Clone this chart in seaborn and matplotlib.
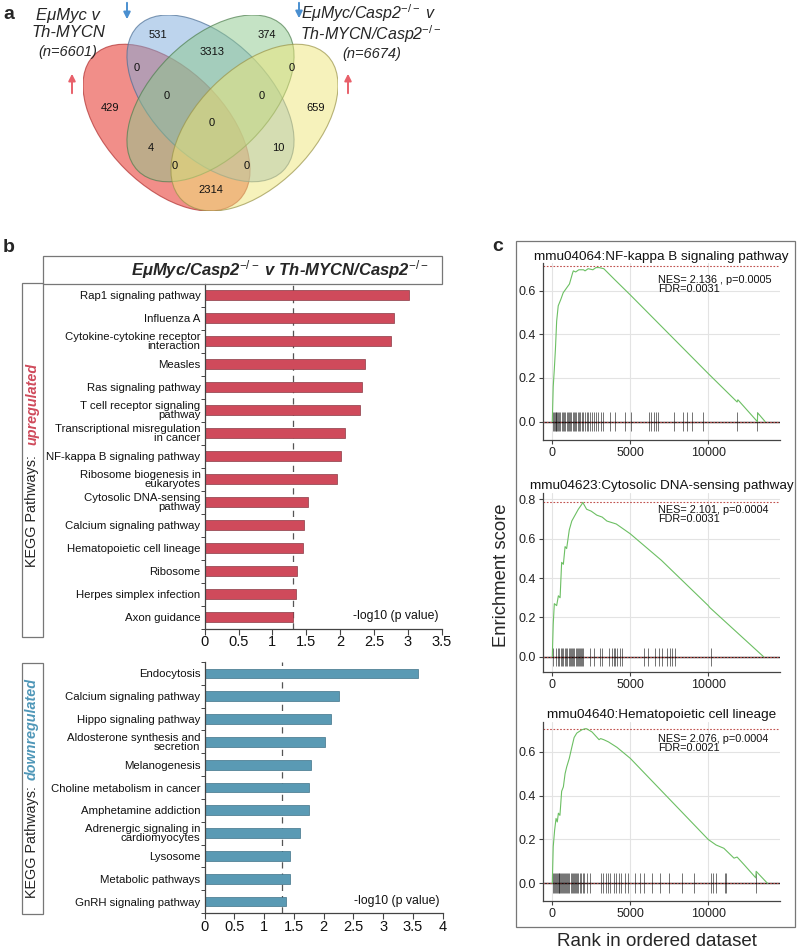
import matplotlib
matplotlib.use("Agg")
import matplotlib.pyplot as plt
from matplotlib.patches import Ellipse, Rectangle
import seaborn as sns

sns.set_theme(style="white")
plt.rcParams['font.family'] = ['Liberation Sans', 'DejaVu Sans']
plt.rcParams['mathtext.fontset'] = 'custom'
plt.rcParams['mathtext.rm'] = 'Liberation Sans'
plt.rcParams['mathtext.it'] = 'Liberation Sans:italic'
plt.rcParams['mathtext.bf'] = 'Liberation Sans:bold'

# ---------------- dados ----------------
# painel a: contagens do Venn (mesma ordem de venn_xy)
venn_counts = [531, 374, 3313, 0, 0, 429, 659, 0, 0, 0, 4, 10, 0, 0, 2314]

# painel b
up_paths = ["Rap1 signaling pathway", "Influenza A", "Cytokine-cytokine receptor\ninteraction",
            "Measles", "Ras signaling pathway", "T cell receptor signaling\npathway",
            "Transcriptional misregulation\nin cancer", "NF-kappa B signaling pathway",
            "Ribosome biogenesis in\neukaryotes", "Cytosolic DNA-sensing\npathway",
            "Calcium signaling pathway", "Hematopoietic cell lineage", "Ribosome",
            "Herpes simplex infection", "Axon guidance"]
up_vals = [3.02, 2.79, 2.75, 2.36, 2.32, 2.30, 2.07, 2.02, 1.95, 1.52, 1.46, 1.45, 1.37, 1.35, 1.31]

down_paths = ["Endocytosis", "Calcium signaling pathway", "Hippo signaling pathway",
              "Aldosterone synthesis and\nsecretion", "Melanogenesis", "Choline metabolism in cancer",
              "Amphetamine addiction", "Adrenergic signaling in\ncardiomyocytes", "Lysosome",
              "Metabolic pathways", "GnRH signaling pathway"]
down_vals = [3.59, 2.26, 2.12, 2.03, 1.79, 1.75, 1.75, 1.60, 1.44, 1.43, 1.37]

# painel c: curvas de enrichment score
gsea_titles = ["mmu04064:NF-kappa B signaling pathway",
               "mmu04623:Cytosolic DNA-sensing pathway",
               "mmu04640:Hematopoietic cell lineage"]
gsea_stats = ["NES= 2.136 , p=0.0005\nFDR=0.0031",
              "NES= 2.101, p=0.0004\nFDR=0.0031",
              "NES= 2.076, p=0.0004\nFDR=0.0021"]
gsea_max = [0.71, 0.785, 0.706]

nfkb_rank = [0, 60, 130, 200, 280, 380, 550, 700, 900, 1100, 1300, 1350, 1500, 1700, 2000, 2100,
             2300, 2600, 2800, 3000, 3300, 4000, 5000, 7500, 10000, 11850, 11900, 13150, 13170, 13650]
nfkb_es = [0, 0.16, 0.24, 0.33, 0.46, 0.53, 0.56, 0.59, 0.61, 0.63, 0.68, 0.69, 0.685, 0.695, 0.695,
           0.69, 0.70, 0.695, 0.705, 0.705, 0.70, 0.65, 0.58, 0.40, 0.22, 0.09, 0.10, 0.0, 0.04, 0.0]
nfkb_hits = [30, 90, 150, 210, 260, 330, 390, 450, 520, 600, 680, 750, 830, 920, 1000, 1080, 1150,
             1230, 1300, 1380, 1460, 1540, 1620, 1700, 1800, 1900, 2000, 2100, 2200, 2300, 2420,
             2550, 2680, 2800, 2950, 3100, 3250, 3700, 4000, 4680, 5040, 6180, 6330, 6500, 6650,
             6780, 7790, 8390, 8650, 8930, 9680, 11870, 13150]

cyto_rank = [0, 60, 130, 280, 390, 500, 600, 710, 820, 920, 1090, 1250, 1460, 1670, 1890, 1950,
             2200, 2500, 2850, 3200, 3500, 4100, 5000, 7000, 10000, 10100, 13550]
cyto_es = [0, 0.165, 0.27, 0.26, 0.31, 0.30, 0.48, 0.47, 0.56, 0.55, 0.645, 0.69, 0.72, 0.75, 0.775,
           0.785, 0.75, 0.74, 0.72, 0.71, 0.69, 0.675, 0.625, 0.49, 0.26, 0.25, 0.0]
cyto_hits = [64, 236, 386, 451, 537, 622, 708, 815, 880, 966, 1052, 1137, 1202, 1288, 1352, 1416,
             1502, 1567, 1631, 1717, 1781, 1846, 1910, 1953, 2425, 2683, 3069, 3176, 3605, 3820,
             3927, 4035, 4142, 4356, 4464, 5859, 6138, 6610, 6824, 7039, 7361, 7576, 7683, 7855,
             10150]

hema_rank = [0, 60, 150, 240, 320, 390, 490, 600, 710, 820, 920, 1090, 1250, 1400, 1570, 1890,
             2100, 2200, 2550, 3000, 3100, 3300, 3600, 4150, 5000, 7500, 10000, 10500, 11000,
             11650, 11850, 12300, 13050, 13070, 13800]
hema_es = [0, 0.167, 0.243, 0.296, 0.28, 0.32, 0.31, 0.42, 0.44, 0.50, 0.53, 0.57, 0.62, 0.665,
           0.685, 0.70, 0.705, 0.705, 0.69, 0.655, 0.66, 0.655, 0.645, 0.62, 0.57, 0.385, 0.20,
           0.175, 0.16, 0.115, 0.12, 0.085, 0.025, 0.055, 0.0]
hema_hits = [60, 110, 170, 230, 280, 340, 400, 460, 520, 580, 640, 700, 760, 830, 900, 960, 1030,
             1100, 1170, 1240, 1310, 1380, 1450, 1520, 1600, 1680, 1760, 1850, 1950, 2050, 2200,
             2420, 3133, 3283, 3412, 3541, 3713, 3927, 4077, 4292, 4421, 4635, 4850, 5279, 5644,
             5902, 6395, 6889, 7468, 8326, 9078, 10150, 10322, 10472, 11052, 11159, 13048]

gsea_rank = [nfkb_rank, cyto_rank, hema_rank]
gsea_es = [nfkb_es, cyto_es, hema_es]
gsea_hits = [nfkb_hits, cyto_hits, hema_hits]

# ---------------- layout / estilo ----------------
W, H = 798, 949
RED = '#cf4a5b'
BLUE = '#5a9ab4'
GREEN = '#6cbf63'

venn_xy = [(0.321, 0.787), (0.693, 0.787), (0.505, 0.729), (0.249, 0.674), (0.778, 0.674),
           (0.157, 0.538), (0.860, 0.538), (0.352, 0.579), (0.673, 0.579), (0.505, 0.486),
           (0.297, 0.401), (0.730, 0.401), (0.379, 0.340), (0.625, 0.340), (0.500, 0.258)]
venn_shapes = [((0.35, 0.47), 135, '#e41e14', '#b03030'),
               ((0.50, 0.57), 135, '#7daadc', '#4c6f95'),
               ((0.50, 0.57), 45, '#8cc88c', '#4f7f4f'),
               ((0.65, 0.47), 45, '#eee678', '#9a944a')]


def px_axes(left, top, right, bottom):
    return fig.add_axes([left / W, 1 - bottom / H, (right - left) / W, (bottom - top) / H])


fig = plt.figure(figsize=(W / 100, H / 100), dpi=100)

# ---------- a: Venn ----------
ax_v = px_axes(83, 15, 338, 211)
for (cx, cy), ang, fc, ec in venn_shapes:
    ax_v.add_patch(Ellipse((cx, cy), 0.70, 0.40, angle=ang, facecolor=fc, alpha=0.5, lw=0))
    ax_v.add_patch(Ellipse((cx, cy), 0.70, 0.40, angle=ang, fill=False, edgecolor=ec, alpha=0.7, lw=0.8))
for (x, y), n in zip(venn_xy, venn_counts):
    ax_v.text(x, y, str(n), ha='center', va='center', fontsize=8, color='#111')
ax_v.set_xlim(0.065, 0.935)
ax_v.set_ylim(0.185, 0.855)
ax_v.axis('off')

# ---------- b: barras ----------
def kegg_bars(ax, vals, paths, color, xmax, text_y):
    sns.barplot(x=vals, y=paths, orient='h', color=color, saturation=1, width=0.43,
                edgecolor='#8a3a45' if color == RED else '#3f7288', linewidth=0.5, ax=ax)
    ax.set_facecolor('none')
    ax.axvline(1.3, color='#555555', lw=0.9, ls=(0, (5, 4)), zorder=0)
    ticks = [i * 0.5 for i in range(int(xmax * 2) + 1)]
    ax.set_xlim(0, xmax)
    ax.set_xticks(ticks)
    ax.set_xticklabels([f'{t:g}' for t in ticks])
    n = len(paths)
    ax.set_yticks([i - 0.5 for i in range(n + 1)], minor=True)
    ax.tick_params(axis='y', which='major', length=0, labelsize=8.2, pad=3, colors='#111')
    ax.tick_params(axis='y', which='minor', left=True, length=3, width=0.7, color='#444')
    ax.tick_params(axis='x', bottom=True, length=4, width=0.8, color='#444', labelsize=10.5,
                   pad=1, colors='#111')
    for lbl in ax.get_yticklabels():
        lbl.set_linespacing(0.85)
    for s in ['top', 'right']:
        ax.spines[s].set_visible(False)
    for s in ['left', 'bottom']:
        ax.spines[s].set_color('#444')
        ax.spines[s].set_linewidth(0.9)
    ax.set_xlabel('')
    ax.set_ylabel('')
    ax.text(0.985, text_y, '-log10 (p value)', transform=ax.transAxes, ha='right', va='center',
            fontsize=8.8, color='#111')


ax_up = px_axes(204.7, 283.5, 441.7, 628.5)
kegg_bars(ax_up, up_vals, up_paths, RED, 3.5, 0.036)
ax_dn = px_axes(204.7, 662, 442.7, 913)
kegg_bars(ax_dn, down_vals, down_paths, BLUE, 4, 0.049)

# ---------- c: GSEA ----------
gsea_box = [(263, 440, -0.084, 0.726), (492.7, 672.3, -0.079, 0.834), (721.7, 900.7, -0.079, 0.737)]
for i in range(3):
    top, bottom, y0, y1 = gsea_box[i]
    ax = px_axes(542.7, top, 780, bottom)
    ax.set_facecolor('none')
    ax.grid(True, color='#e3e3e3', lw=0.8)
    ax.set_axisbelow(True)
    ax.axhline(0, color='#222222', lw=1.0, zorder=1)
    ax.axhline(0, color='#c0504d', lw=0.8, ls=(0, (1.5, 1.5)), zorder=2)
    ax.axhline(gsea_max[i], color='#c0504d', lw=0.8, ls=(0, (1.5, 1.5)), zorder=2)
    ax.vlines(gsea_hits[i], -0.045, 0.045, color='black', alpha=0.55, lw=0.7, zorder=3)
    sns.lineplot(x=gsea_rank[i], y=gsea_es[i], ax=ax, color=GREEN, lw=0.8,
                 estimator=None, sort=False, zorder=4)
    ax.set_xlim(-615, 14600)
    ax.set_ylim(y0, y1)
    yt = [0, 0.2, 0.4, 0.6, 0.8] if y1 > 0.8 else [0, 0.2, 0.4, 0.6]
    ax.set_yticks(yt)
    ax.set_yticklabels([f'{t:.1f}' for t in yt])
    ax.set_xticks([0, 5000, 10000])
    ax.set_xticklabels(['0', '5000', '10000'])
    ax.tick_params(length=3, width=0.8, color='#444', labelsize=9, pad=2, colors='#222',
                   bottom=True, left=True)
    for s in ['top', 'right']:
        ax.spines[s].set_visible(False)
    for s in ['left', 'bottom']:
        ax.spines[s].set_color('#444')
        ax.spines[s].set_linewidth(0.9)
    ax.set_title(gsea_titles[i], fontsize=9.7, pad=2.5, color='#111')
    ax.text(0.485, 0.93, gsea_stats[i], transform=ax.transAxes, ha='left', va='top',
            fontsize=7.8, linespacing=0.85, color='#111')

# ---------- sobreposicao (textos, caixas, setas) ----------
ov = fig.add_axes([0, 0, 1, 1])
ov.set_xlim(0, W)
ov.set_ylim(H, 0)
ov.axis('off')

for lbl, x, y in [('a', 3, 14), ('b', 3, 247), ('c', 492, 246)]:
    ov.text(x, y, lbl, fontsize=14, fontweight='bold', ha='left', va='center')

ov.text(68, 15, 'EμMyc v', fontsize=12, style='italic', ha='center', va='center')
ov.text(68, 32, 'Th-MYCN', fontsize=12, style='italic', ha='center', va='center')
ov.text(68, 52, '(n=6601)', fontsize=10.5, style='italic', ha='center', va='center')
ov.text(369, 13, r'EμMyc/Casp2$^{-/-}$ v', fontsize=11.5, style='italic', ha='center', va='center')
ov.text(371, 34, r'Th-MYCN/Casp2$^{-/-}$', fontsize=11.5, style='italic', ha='center', va='center')
ov.text(372, 54, '(n=6674)', fontsize=10.5, style='italic', ha='center', va='center')

arrow_red = dict(arrowstyle='-|>', color='#e8606a', lw=1.4, mutation_scale=10)
arrow_blue = dict(arrowstyle='-|>', color='#4a8fd0', lw=1.4, mutation_scale=10)
ov.annotate('', xy=(72, 71), xytext=(72, 96), arrowprops=arrow_red)
ov.annotate('', xy=(348, 71), xytext=(348, 96), arrowprops=arrow_red)
ov.annotate('', xy=(127, 22), xytext=(127, 0), arrowprops=arrow_blue)
ov.annotate('', xy=(299, 21), xytext=(299, 0), arrowprops=arrow_blue)

# caixas do painel b
box_kw = dict(fill=False, edgecolor='#777777', lw=0.9)
ov.add_patch(Rectangle((43.3, 255.7), 398.4, 28.3, **box_kw))
ov.add_patch(Rectangle((22.3, 283.3), 21, 353.7, **box_kw))
ov.add_patch(Rectangle((22.3, 663), 21, 251, **box_kw))
ov.text(280, 270, r'EμMyc/Casp2$^{-/-}$ v Th-MYCN/Casp2$^{-/-}$', fontsize=12,
        fontweight='bold', style='italic', ha='center', va='center')

ov.text(32, 567, 'KEGG Pathways:', rotation=90, fontsize=10.4, ha='center', va='bottom')
ov.text(32, 363, 'upregulated', rotation=90, fontsize=10.4, fontweight='bold', style='italic',
        color=RED, ha='center', va='top')
ov.text(32, 898, 'KEGG Pathways:', rotation=90, fontsize=10.4, ha='center', va='bottom')
ov.text(32, 678, 'downregulated', rotation=90, fontsize=10.4, fontweight='bold', style='italic',
        color='#4f97b8', ha='center', va='top')

# caixa do painel c
ov.add_patch(Rectangle((516, 241), 279, 686, **box_kw))
ov.text(501.7, 575, 'Enrichment score', rotation=90, fontsize=13.3, ha='center', va='center')
ov.text(656.7, 942, 'Rank in ordered dataset', fontsize=13.5, ha='center', va='center')

fig.savefig('out.png', dpi=100)
